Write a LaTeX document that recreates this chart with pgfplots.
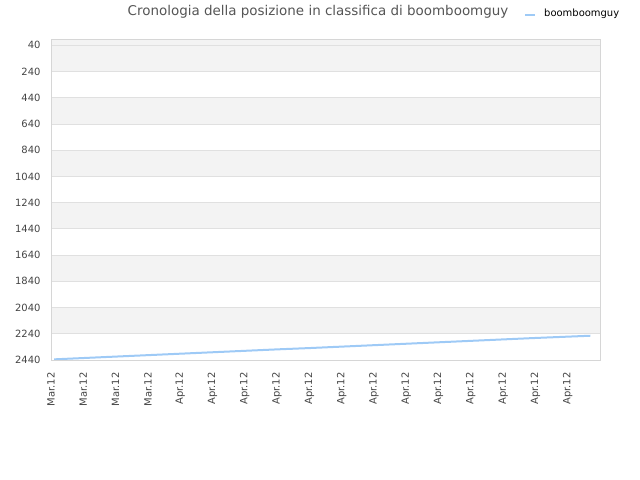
\documentclass[border=0pt]{standalone}
\usepackage{fontspec}
\setmainfont{DejaVu Sans}
\usepackage{pgfplots}
\pgfplotsset{compat=1.18}

\definecolor{linecol}{RGB}{158,202,246}
\definecolor{bandcol}{RGB}{243,243,243}
\definecolor{gridcol}{RGB}{224,224,224}
\definecolor{framecol}{RGB}{214,214,214}
\definecolor{labelcol}{RGB}{68,68,68}
\definecolor{titlecol}{RGB}{85,85,85}

\begin{document}
\begin{tikzpicture}
\path (0bp,0bp) rectangle (640bp,480bp);

\begin{axis}[
    axis on top,
    at={(51bp,120bp)}, anchor=south west,
    width=549bp, height=320bp, scale only axis,
    xmin=0, xmax=17,
    ymin=0, ymax=2440, y dir=reverse,
    xtick={0,...,16},
    xticklabels={Mar.12,Mar.12,Mar.12,Mar.12,Apr.12,Apr.12,Apr.12,Apr.12,Apr.12,
                 Apr.12,Apr.12,Apr.12,Apr.12,Apr.12,Apr.12,Apr.12,Apr.12},
    ytick={40,240,440,640,840,1040,1240,1440,1640,1840,2040,2240,2440},
    /pgf/number format/assume math mode=true,
    /pgf/number format/1000 sep={},
    tick label style={font=\fontsize{10}{12}\selectfont, text=labelcol},
    xticklabel style={rotate=90, anchor=east},
    xticklabel shift=9bp,
    yticklabel shift=7bp,
    major tick length=0pt,
    ymajorgrids, grid style={draw=gridcol, line width=0.8bp},
    axis line style={draw=framecol, line width=1bp},
    band/.style={draw=none, fill=bandcol, forget plot},
]
\addplot[band] coordinates {(0,0) (17,0) (17,240) (0,240)} -- cycle;
\addplot[band] coordinates {(0,440) (17,440) (17,640) (0,640)} -- cycle;
\addplot[band] coordinates {(0,840) (17,840) (17,1040) (0,1040)} -- cycle;
\addplot[band] coordinates {(0,1240) (17,1240) (17,1440) (0,1440)} -- cycle;
\addplot[band] coordinates {(0,1640) (17,1640) (17,1840) (0,1840)} -- cycle;
\addplot[band] coordinates {(0,2040) (17,2040) (17,2240) (0,2240)} -- cycle;

\addplot[linecol, line width=2bp, no markers] coordinates {
  (0.1, 2435)
  (1, 2425)
  (2, 2414)
  (3, 2403)
  (4, 2392)
  (5, 2381)
  (6, 2370)
  (7, 2359)
  (8, 2349)
  (9, 2338)
  (10, 2327)
  (11, 2316)
  (12, 2305)
  (13, 2294)
  (14, 2283)
  (15, 2272)
  (16, 2262)
  (16.7, 2255)
};
\end{axis}

% title and legend
\node[text=titlecol, font=\fontsize{13.5}{16}\selectfont] at (318bp,468bp)
  {Cronologia della posizione in classifica di boomboomguy};
\draw[linecol, line width=2bp] (525bp,465bp) -- (535bp,465bp);
\node[anchor=west, inner sep=0pt, font=\fontsize{10}{12}\selectfont] at (544bp,466bp)
  {boomboomguy};
\end{tikzpicture}
\end{document}
